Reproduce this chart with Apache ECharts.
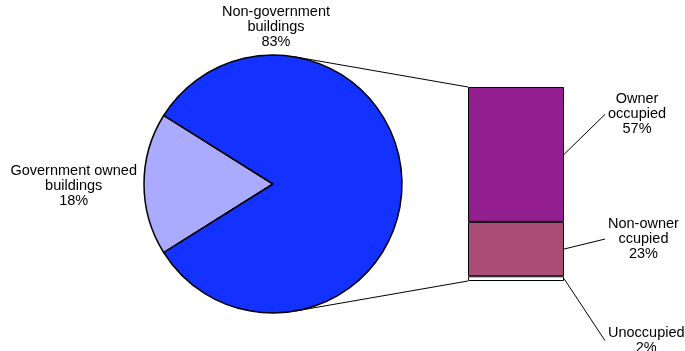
<!DOCTYPE html>
<html>
<head>
<meta charset="utf-8">
<script src="https://cdn.jsdelivr.net/npm/echarts@6/dist/echarts.min.js"></script>
<style>
  html, body { margin: 0; padding: 0; background: #ffffff; }
  #chart { width: 685px; height: 351px; }
</style>
</head>
<body>
<div id="chart"></div>
<script>
// Ownership of buildings
const pieNames = ['Government owned\nbuildings', 'Non-government\nbuildings'];
const pieValues = [18, 83];

// Breakdown of the non-government share, stacked from the bottom up
const barNames = ['Unoccupied', 'Non-owner\nccupied', 'Owner\noccupied'];
const barValues = [2, 23, 57];

// Layout and styling
const FONT = '"Liberation Sans", Arial, Helvetica, sans-serif';
const FONT_SIZE = 14.5;
const LINE_H = 15;
const PIE_CX = 273, PIE_CY = 184, PIE_R = 129;
const BAR_LEFT = 468, BAR_W = 96, BAR_TOP = 87, BAR_H = 194;
const LABEL_GAP = 44;            // bar edge to breakdown label
const LEADER_GAP = 41;           // bar edge to end of leader line
const pieColors = ['#aaaaff', '#1432ff'];
const barColors = ['#ffffff', '#a94c76', '#931e8f'];
const barLabelShift = [62, -10, -40]; // label offset from the segment middle

const pieTotal = pieValues.reduce((a, b) => a + b, 0);
const barTotal = barValues.reduce((a, b) => a + b, 0);
// centre the government slice on the left-hand side
const startAngle = 180 + (pieValues[0] / pieTotal) * 180;

const textStyle = {
  color: '#000000',
  fontFamily: FONT,
  fontSize: FONT_SIZE,
  lineHeight: LINE_H,
  textBorderWidth: 0,
  textShadowBlur: 0
};

const chart = echarts.init(document.getElementById('chart'), null, { renderer: 'canvas' });

const pieSeries = {
  type: 'pie',
  center: [PIE_CX, PIE_CY],
  radius: PIE_R,
  startAngle: startAngle,
  clockwise: true,
  silent: true,
  avoidLabelOverlap: false,
  data: pieNames.map((n, i) => ({ name: n, value: pieValues[i], itemStyle: { color: pieColors[i] } })),
  itemStyle: { borderColor: '#000000', borderWidth: 1.5 },
  label: Object.assign({ show: true, formatter: p => p.name + '\n' + p.value + '%' }, textStyle),
  labelLine: { show: false },
  labelLayout: function (p) {
    if (p.dataIndex === 0) {
      return {
        x: PIE_CX - PIE_R - 7 - p.labelRect.width / 2,
        y: PIE_CY + 2,
        align: 'center',
        verticalAlign: 'middle'
      };
    }
    return {
      x: PIE_CX + 3,
      y: PIE_CY - PIE_R - 6,
      align: 'center',
      verticalAlign: 'bottom'
    };
  },
  emphasis: { disabled: true }
};

const barSeries = barNames.map((n, i) => ({
  type: 'bar',
  name: n,
  stack: 'breakdown',
  barWidth: '100%',
  silent: true,
  data: [barValues[i]],
  itemStyle: { color: barColors[i], borderColor: '#000000', borderWidth: 1 },
  label: Object.assign({ show: true, formatter: () => n + '\n' + barValues[i] + '%' }, textStyle),
  labelLayout: function (p) {
    return {
      x: p.rect.x + p.rect.width + LABEL_GAP + p.labelRect.width / 2,
      y: p.rect.y + p.rect.height / 2 + barLabelShift[i],
      align: 'center',
      verticalAlign: 'middle'
    };
  },
  emphasis: { disabled: true }
}));

chart.setOption({
  animation: false,
  backgroundColor: '#ffffff',
  tooltip: { show: false },
  grid: { left: BAR_LEFT, top: BAR_TOP, width: BAR_W, height: BAR_H, containLabel: false },
  xAxis: { type: 'category', data: ['breakdown'], show: false },
  yAxis: { type: 'value', min: 0, max: barTotal, show: false, splitLine: { show: false } },
  series: [pieSeries].concat(barSeries)
});

// Connector and leader lines, placed from the axis scale and pie geometry
function tangentPoint(px, py, side) {
  const vx = px - PIE_CX, vy = py - PIE_CY;
  const d = Math.sqrt(vx * vx + vy * vy);
  const a = Math.atan2(vy, vx) + side * Math.acos(PIE_R / d);
  return [PIE_CX + PIE_R * Math.cos(a), PIE_CY + PIE_R * Math.sin(a)];
}

const yTop = chart.convertToPixel({ yAxisIndex: 0 }, barTotal);
const yBottom = chart.convertToPixel({ yAxisIndex: 0 }, 0);
const tTop = tangentPoint(BAR_LEFT, yTop, -1);
const tBottom = tangentPoint(BAR_LEFT, yBottom, 1);

const lines = [
  { x1: tTop[0], y1: tTop[1], x2: BAR_LEFT, y2: yTop },
  { x1: tBottom[0], y1: tBottom[1], x2: BAR_LEFT, y2: yBottom }
];

let cum = 0;
barValues.forEach((v, i) => {
  const midPix = chart.convertToPixel({ yAxisIndex: 0 }, cum + v / 2);
  cum += v;
  lines.push({
    x1: BAR_LEFT + BAR_W, y1: midPix,
    x2: BAR_LEFT + BAR_W + LEADER_GAP, y2: midPix + barLabelShift[i]
  });
});

chart.setOption({
  graphic: lines.map(s => ({
    type: 'line',
    silent: true,
    z: 10,
    shape: s,
    style: { stroke: '#000000', lineWidth: 1 }
  }))
});
</script>
</body>
</html>
